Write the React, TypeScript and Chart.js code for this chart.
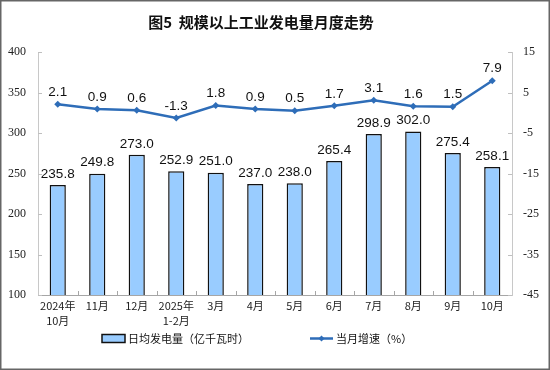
import React, { useEffect, useRef } from "react";
import { Chart, registerables } from "chart.js";

Chart.register(...registerables);

const categories: string[][] = [
  ["2024年", "10月"], ["11月"], ["12月"], ["2025年", "1-2月"], ["3月"], ["4月"],
  ["5月"], ["6月"], ["7月"], ["8月"], ["9月"], ["10月"],
];
const dailyOutput: number[] = [235.8, 249.8, 273.0, 252.9, 251.0, 237.0, 238.0, 265.4, 298.9, 302.0, 275.4, 258.1];
const growthRate: number[] = [2.1, 0.9, 0.6, -1.3, 1.8, 0.9, 0.5, 1.7, 3.1, 1.6, 1.5, 7.9];
const titleText = "图5  规模以上工业发电量月度走势";
const barLegend = "日均发电量（亿千瓦时）";
const lineLegend = "当月增速（%）";

const BAR_FILL = "#99CCFF";
const BAR_EDGE = "#111111";
const LINE_COLOR = "#2E6DB8";
const CJK = "'Noto Sans CJK SC', sans-serif";

const decorPlugin = {
  id: "decor",
  afterDraw(chart: any) {
    const ctx = chart.ctx as CanvasRenderingContext2D;
    const area = chart.chartArea;
    ctx.save();
    // frame
    ctx.strokeStyle = "#666666";
    ctx.lineWidth = 1.5;
    ctx.strokeRect(0.75, 0.75, 548.5, 368.5);

    // title
    ctx.fillStyle = "#111";
    ctx.font = `bold 15px ${CJK}`;
    ctx.textAlign = "center";
    ctx.textBaseline = "middle";
    ctx.fillText(titleText, 261, 22);

    // inside ticks
    const y = chart.scales.y;
    const y1 = chart.scales.y1;
    const x = chart.scales.x;
    ctx.lineWidth = 1;
    ctx.strokeStyle = "#bfbfbf";
    y.ticks.forEach((t: any) => {
      const py = Math.round(y.getPixelForValue(t.value)) + 0.5;
      ctx.beginPath();
      ctx.moveTo(area.left, py);
      ctx.lineTo(area.left + 4, py);
      ctx.stroke();
    });
    y1.ticks.forEach((t: any) => {
      const py = Math.round(y1.getPixelForValue(t.value)) + 0.5;
      ctx.beginPath();
      ctx.moveTo(area.right, py);
      ctx.lineTo(area.right - 4, py);
      ctx.stroke();
    });
    ctx.strokeStyle = "#a6a6a6";
    const n = categories.length;
    const w = (x.right - x.left) / n;
    for (let k = 1; k < n; k++) {
      const px = Math.round(x.left + k * w) + 0.5;
      ctx.beginPath();
      ctx.moveTo(px, area.bottom);
      ctx.lineTo(px, area.bottom - 4);
      ctx.stroke();
    }

    // data labels
    ctx.fillStyle = "#111";
    ctx.font = "13.5px 'Liberation Sans', Arial, sans-serif";
    ctx.textAlign = "center";
    ctx.textBaseline = "middle";
    const barMeta = chart.getDatasetMeta(0);
    barMeta.data.forEach((el: any, i: number) => {
      ctx.fillText(dailyOutput[i].toFixed(1), el.x, el.y - 11);
    });
    const lineMeta = chart.getDatasetMeta(1);
    lineMeta.data.forEach((el: any, i: number) => {
      ctx.fillText(growthRate[i].toFixed(1), el.x, el.y - 12);
    });

    // legend
    const ly = 338.5;
    ctx.fillStyle = BAR_FILL;
    ctx.fillRect(102, 334.5, 23, 8);
    ctx.strokeStyle = BAR_EDGE;
    ctx.lineWidth = 1.5;
    ctx.strokeRect(102, 334.5, 23, 8);
    ctx.fillStyle = "#111";
    ctx.font = `11px ${CJK}`;
    ctx.textAlign = "left";
    ctx.fillText(barLegend, 128, ly);

    ctx.strokeStyle = LINE_COLOR;
    ctx.lineWidth = 2.5;
    ctx.beginPath();
    ctx.moveTo(310, ly);
    ctx.lineTo(333, ly);
    ctx.stroke();
    ctx.fillStyle = LINE_COLOR;
    ctx.beginPath();
    ctx.moveTo(321.5, ly - 3);
    ctx.lineTo(324.5, ly);
    ctx.lineTo(321.5, ly + 3);
    ctx.lineTo(318.5, ly);
    ctx.closePath();
    ctx.fill();
    ctx.fillStyle = "#111";
    ctx.fillText(lineLegend, 336, ly);
    ctx.restore();
  },
};

export default function App() {
  const ref = useRef<HTMLCanvasElement | null>(null);
  useEffect(() => {
    if (!ref.current) return;
    const chart = new Chart(ref.current, {
      type: "bar",
      data: {
        labels: categories,
        datasets: [
          {
            type: "bar",
            label: barLegend,
            data: dailyOutput,
            yAxisID: "y",
            backgroundColor: BAR_FILL,
            borderColor: BAR_EDGE,
            borderWidth: 1.5,
            barPercentage: 0.41,
            categoryPercentage: 1,
            order: 2,
          },
          {
            type: "line",
            label: lineLegend,
            data: growthRate,
            yAxisID: "y1",
            borderColor: LINE_COLOR,
            backgroundColor: LINE_COLOR,
            borderWidth: 2.5,
            pointStyle: "rectRot",
            pointRadius: 3.5,
            pointBorderWidth: 0,
            tension: 0,
            order: 1,
          } as any,
        ],
      },
      options: {
        responsive: false,
        animation: false,
        devicePixelRatio: 1,
        layout: { padding: { top: 52, left: 0, right: 0, bottom: 0 } },
        plugins: { legend: { display: false }, title: { display: false }, tooltip: { enabled: false } },
        scales: {
          x: {
            type: "category",
            offset: true,
            grid: { display: false, drawTicks: false },
            border: { display: true, color: "#a6a6a6", width: 1 },
            ticks: {
              color: "#222",
              font: { family: CJK, size: 11, lineHeight: 1.3 },
              padding: 4,
              maxRotation: 0,
              autoSkip: false,
            },
            afterFit: (s: any) => { s.height = 75; },
          },
          y: {
            position: "left",
            min: 100,
            max: 400,
            grid: { display: false, drawTicks: false },
            border: { display: true, color: "#c8c8c8", width: 1 },
            ticks: {
              stepSize: 50,
              color: "#222",
              font: { family: "'Liberation Serif', serif", size: 12 },
              padding: 12,
            },
            afterFit: (s: any) => { s.width = 38; },
          },
          y1: {
            position: "right",
            min: -45,
            max: 15,
            grid: { display: false, drawTicks: false },
            border: { display: true, color: "#c8c8c8", width: 1 },
            ticks: {
              stepSize: 10,
              color: "#222",
              font: { family: "'Liberation Serif', serif", size: 12 },
              padding: 11,
            },
            afterFit: (s: any) => { s.width = 38; },
          },
        },
      } as any,
      plugins: [decorPlugin],
    });
    return () => chart.destroy();
  }, []);
  return (
    <div style={{ position: "absolute", left: 0, top: 0, width: 550, height: 370, background: "#fff" }}>
      <canvas ref={ref} width={550} height={370} style={{ width: 550, height: 370, display: "block" }} />
    </div>
  );
}
